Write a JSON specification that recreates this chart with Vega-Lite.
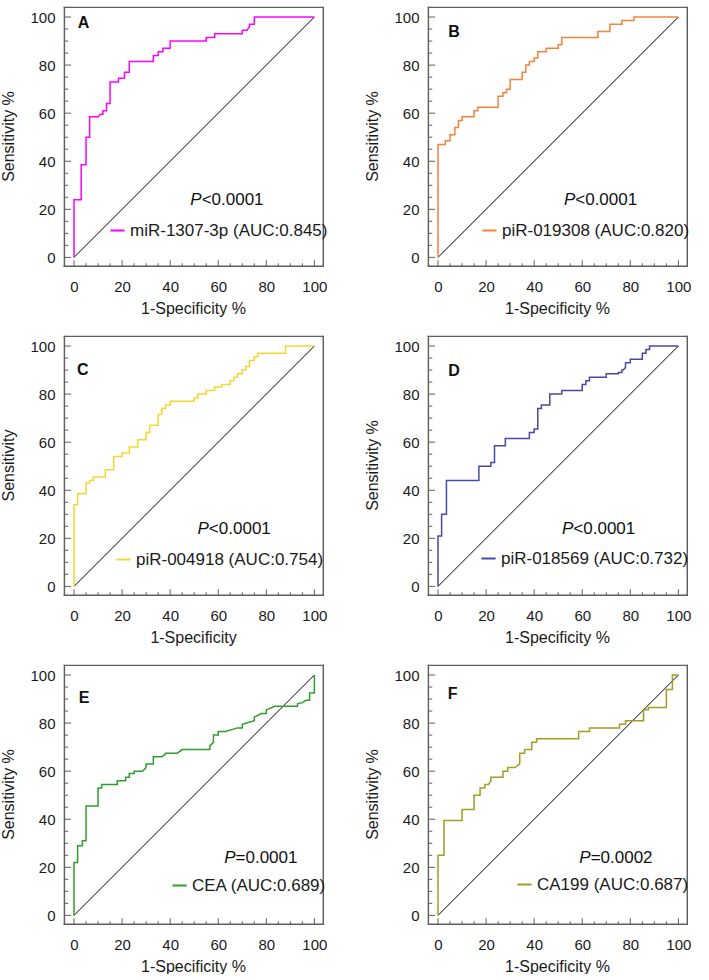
{
  "$schema": "https://vega.github.io/schema/vega-lite/v6.json",
  "padding": {"left": 0, "top": 0, "right": 0, "bottom": 0},
  "background": "white",
  "columns": 2,
  "spacing": {"row": 13, "column": 35},
  "resolve": {"scale": {"x": "independent", "y": "independent", "color": "independent"}, "legend": {"color": "independent"}},
  "datasets": {
    "one": [{"k": 1}],
    "tkMajor": [{"v":0},{"v":20},{"v":40},{"v":60},{"v":80},{"v":100}],
    "tkMinor": [{"v":5},{"v":10},{"v":15},{"v":25},{"v":30},{"v":35},{"v":45},{"v":50},{"v":55},{"v":65},{"v":70},{"v":75},{"v":85},{"v":90},{"v":95}],
    "A": [{"x":0,"y":0},{"x":0,"y":24},{"x":3,"y":24},{"x":3,"y":38.5},{"x":5,"y":38.5},{"x":5,"y":50},{"x":6.5,"y":50},{"x":6.5,"y":58.5},{"x":10,"y":58.5},{"x":11,"y":59.5},{"x":12,"y":59.5},{"x":12,"y":61},{"x":13.5,"y":61},{"x":13.5,"y":64},{"x":15,"y":64},{"x":15,"y":73},{"x":18.5,"y":73},{"x":18.5,"y":74.5},{"x":21,"y":74.5},{"x":21,"y":77},{"x":23,"y":77},{"x":23,"y":81.5},{"x":33,"y":81.5},{"x":33,"y":84},{"x":35,"y":84},{"x":35,"y":85.5},{"x":37,"y":85.5},{"x":37,"y":87},{"x":40,"y":87},{"x":40,"y":90},{"x":55,"y":90},{"x":55,"y":91.5},{"x":58.5,"y":91.5},{"x":58.5,"y":93},{"x":70,"y":93},{"x":70,"y":94.5},{"x":72,"y":94.5},{"x":73,"y":96},{"x":73,"y":97},{"x":75,"y":97},{"x":75,"y":100},{"x":100,"y":100}],
    "B": [{"x":0,"y":0},{"x":0,"y":47},{"x":3,"y":47},{"x":3,"y":48.5},{"x":5,"y":48.5},{"x":5,"y":51},{"x":7,"y":51},{"x":7,"y":54},{"x":8.5,"y":54},{"x":8.5,"y":57},{"x":10,"y":57},{"x":10,"y":58.5},{"x":15,"y":58.5},{"x":15,"y":61},{"x":16.5,"y":61},{"x":16.5,"y":62.5},{"x":25,"y":62.5},{"x":25,"y":67},{"x":27,"y":67},{"x":27,"y":68.5},{"x":28.5,"y":68.5},{"x":28.5,"y":70},{"x":30,"y":70},{"x":30,"y":74},{"x":35,"y":74},{"x":35,"y":77},{"x":36.5,"y":77},{"x":36.5,"y":80},{"x":38,"y":80},{"x":38,"y":81.5},{"x":40,"y":81.5},{"x":40,"y":83},{"x":41.5,"y":83},{"x":41.5,"y":85.5},{"x":45,"y":85.5},{"x":45,"y":87},{"x":50,"y":87},{"x":50,"y":88.5},{"x":51.5,"y":88.5},{"x":51.5,"y":91.5},{"x":66.5,"y":91.5},{"x":66.5,"y":94},{"x":71.5,"y":94},{"x":71.5,"y":97},{"x":76.5,"y":97},{"x":76.5,"y":98.5},{"x":81.5,"y":98.5},{"x":81.5,"y":100},{"x":100,"y":100}],
    "C": [{"x":0,"y":0},{"x":0,"y":34},{"x":1.5,"y":34},{"x":1.5,"y":38.5},{"x":5,"y":38.5},{"x":5,"y":43},{"x":6.5,"y":43},{"x":6.5,"y":44},{"x":8,"y":44},{"x":8,"y":45.5},{"x":13,"y":45.5},{"x":13,"y":48.5},{"x":16.5,"y":48.5},{"x":16.5,"y":54},{"x":20,"y":54},{"x":20,"y":55.5},{"x":23,"y":55.5},{"x":23,"y":58},{"x":26.5,"y":58},{"x":26.5,"y":61},{"x":30,"y":61},{"x":30,"y":64},{"x":31.5,"y":64},{"x":31.5,"y":67},{"x":35,"y":67},{"x":35,"y":71.5},{"x":36.5,"y":71.5},{"x":36.5,"y":74},{"x":38,"y":74},{"x":38,"y":75.5},{"x":40,"y":75.5},{"x":40,"y":77},{"x":50,"y":77},{"x":50,"y":78.5},{"x":51.5,"y":78.5},{"x":51.5,"y":80},{"x":55,"y":80},{"x":55,"y":81.5},{"x":58.5,"y":81.5},{"x":58.5,"y":83},{"x":61.5,"y":83},{"x":61.5,"y":84},{"x":65,"y":84},{"x":65,"y":85.5},{"x":66.5,"y":85.5},{"x":66.5,"y":87},{"x":68,"y":87},{"x":68,"y":88.5},{"x":70,"y":88.5},{"x":70,"y":90},{"x":71.5,"y":90},{"x":71.5,"y":91.5},{"x":73,"y":91.5},{"x":73,"y":94},{"x":75,"y":94},{"x":75,"y":95.5},{"x":76.5,"y":95.5},{"x":76.5,"y":97},{"x":88,"y":97},{"x":88,"y":100},{"x":100,"y":100}],
    "D": [{"x":0,"y":0},{"x":0,"y":21},{"x":1.5,"y":21},{"x":1.5,"y":30},{"x":3.5,"y":30},{"x":3.5,"y":44},{"x":17,"y":44},{"x":17,"y":50},{"x":22,"y":50},{"x":22,"y":51.5},{"x":23.5,"y":51.5},{"x":23.5,"y":58.5},{"x":28,"y":58.5},{"x":28,"y":61.5},{"x":38,"y":61.5},{"x":38,"y":64},{"x":40,"y":64},{"x":40,"y":65.5},{"x":41.5,"y":65.5},{"x":41.5,"y":74},{"x":43,"y":74},{"x":43,"y":75.5},{"x":46.5,"y":75.5},{"x":46.5,"y":80},{"x":51.5,"y":80},{"x":51.5,"y":81.5},{"x":60,"y":81.5},{"x":60,"y":84},{"x":61.5,"y":84},{"x":61.5,"y":85.5},{"x":63,"y":85.5},{"x":63,"y":87},{"x":70,"y":87},{"x":70,"y":88.5},{"x":75,"y":88.5},{"x":75,"y":89},{"x":76.5,"y":89},{"x":76.5,"y":90},{"x":77,"y":90},{"x":78,"y":91},{"x":78,"y":93},{"x":80,"y":93},{"x":80,"y":94.5},{"x":85,"y":94.5},{"x":85,"y":97},{"x":86.5,"y":97},{"x":86.5,"y":98.5},{"x":88,"y":98.5},{"x":88,"y":100},{"x":100,"y":100}],
    "E": [{"x":0,"y":0},{"x":0,"y":22},{"x":1.5,"y":22},{"x":1.5,"y":29},{"x":3.5,"y":29},{"x":3.5,"y":31},{"x":5,"y":31},{"x":5,"y":45.5},{"x":10,"y":45.5},{"x":10,"y":53},{"x":11.5,"y":53},{"x":11.5,"y":54.5},{"x":18,"y":54.5},{"x":18,"y":56},{"x":21.5,"y":56},{"x":21.5,"y":57.5},{"x":23,"y":57.5},{"x":23,"y":59},{"x":25,"y":59},{"x":25,"y":60},{"x":28.5,"y":60},{"x":30,"y":61.5},{"x":30,"y":63},{"x":33,"y":63},{"x":33,"y":66},{"x":36.5,"y":66},{"x":38,"y":67},{"x":38,"y":67.5},{"x":43,"y":67.5},{"x":45,"y":69},{"x":56.5,"y":69},{"x":56.5,"y":70.5},{"x":58,"y":72},{"x":58,"y":75},{"x":60,"y":75},{"x":60,"y":76.5},{"x":63,"y":76.5},{"x":68,"y":78},{"x":70,"y":78},{"x":70,"y":79.5},{"x":75,"y":81},{"x":75,"y":82.5},{"x":78,"y":84},{"x":80,"y":84},{"x":80,"y":85.5},{"x":83.5,"y":87},{"x":93,"y":87},{"x":93,"y":88},{"x":95,"y":88.5},{"x":96.5,"y":89.5},{"x":98,"y":89.5},{"x":98,"y":92.5},{"x":100,"y":92.5},{"x":100,"y":100}],
    "F": [{"x":0,"y":0},{"x":0,"y":25},{"x":2.5,"y":25},{"x":2.5,"y":39.5},{"x":10,"y":39.5},{"x":10,"y":44},{"x":15,"y":44},{"x":15,"y":50},{"x":17.5,"y":50},{"x":17.5,"y":53},{"x":19.5,"y":53},{"x":19.5,"y":54.5},{"x":21,"y":54.5},{"x":22,"y":56},{"x":22,"y":57.5},{"x":27,"y":57.5},{"x":27,"y":60},{"x":29,"y":60},{"x":29,"y":61.5},{"x":32,"y":61.5},{"x":34,"y":63},{"x":34,"y":67.5},{"x":36,"y":67.5},{"x":36,"y":69},{"x":39,"y":69},{"x":39,"y":72},{"x":41,"y":72},{"x":41,"y":73.5},{"x":58.5,"y":73.5},{"x":58.5,"y":76.5},{"x":63,"y":76.5},{"x":63,"y":78},{"x":75.5,"y":78},{"x":75.5,"y":79.5},{"x":78,"y":79.5},{"x":78,"y":81},{"x":85.5,"y":81},{"x":85.5,"y":85.5},{"x":87.5,"y":85.5},{"x":87.5,"y":86.5},{"x":95,"y":86.5},{"x":95,"y":94},{"x":97.5,"y":94},{"x":97.5,"y":100},{"x":100,"y":100}]
  },
  "concat": [
    {
      "width": 272, "height": 272,
      "layer": [
        {"data": {"name": "one"}, "mark": {"type": "rect", "color": "#5f5f5f"}, "encoding": {"x": {"datum": -4.3}, "x2": {"datum": 104}, "y": {"datum": -4}, "y2": {"datum": -3.4}}},
        {"data": {"name": "one"}, "mark": {"type": "rect", "color": "#5f5f5f"}, "encoding": {"x": {"datum": -4.3}, "x2": {"datum": 104}, "y": {"datum": 103.7}, "y2": {"datum": 104.3}}},
        {"data": {"name": "one"}, "mark": {"type": "rect", "color": "#5f5f5f"}, "encoding": {"x": {"datum": -4.3}, "x2": {"datum": -3.7}, "y": {"datum": -4}, "y2": {"datum": 104.3}}},
        {"data": {"name": "one"}, "mark": {"type": "rect", "color": "#5f5f5f"}, "encoding": {"x": {"datum": 103.4}, "x2": {"datum": 104}, "y": {"datum": -4}, "y2": {"datum": 104.3}}},
        {"data": {"name": "tkMajor"}, "mark": {"type": "bar", "color": "#5f5f5f", "size": 1}, "encoding": {"x": {"field": "v", "type": "quantitative"}, "y": {"datum": -4}, "y2": {"datum": -1.2}}},
        {"data": {"name": "tkMinor"}, "mark": {"type": "bar", "color": "#5f5f5f", "size": 1}, "encoding": {"x": {"field": "v", "type": "quantitative"}, "y": {"datum": -4}, "y2": {"datum": -2.4}}},
        {"data": {"name": "tkMajor"}, "mark": {"type": "bar", "color": "#5f5f5f", "size": 1}, "encoding": {"y": {"field": "v", "type": "quantitative"}, "x": {"datum": -4}, "x2": {"datum": -1.2}}},
        {"data": {"name": "tkMinor"}, "mark": {"type": "bar", "color": "#5f5f5f", "size": 1}, "encoding": {"y": {"field": "v", "type": "quantitative"}, "x": {"datum": -4}, "x2": {"datum": -2.4}}},
        {"data": {"name": "one"}, "mark": {"type": "rule", "color": "black", "strokeWidth": 1}, "encoding": {"x": {"datum": 0}, "y": {"datum": 0}, "x2": {"datum": 100}, "y2": {"datum": 100}}},
        {"data": {"name": "A"}, "mark": {"type": "line", "strokeWidth": 1.5},
         "encoding": {
           "x": {"field": "x", "type": "quantitative", "scale": {"domain": [-5, 104], "nice": false, "zero": false}, "axis": {"title": "1-Specificity %", "values": [0,20,40,60,80,100], "ticks": false, "labelPadding": 7}},
           "y": {"field": "y", "type": "quantitative", "scale": {"domain": [-4, 105], "nice": false, "zero": false}, "axis": {"title": "Sensitivity %", "titlePadding": 13.5, "values": [0,20,40,60,80,100], "ticks": false, "labelPadding": 2}},
           "color": {"datum": "miR-1307-3p (AUC:0.845)", "scale": {"range": ["#FF00FF"]}, "legend": {"title": null, "legendX": 52, "legendY": 222}},
           "order": {"value": null}
         }},
        {"data": {"name": "one"}, "mark": {"type": "text", "align": "left", "baseline": "alphabetic", "fontSize": 16, "fontWeight": "bold", "color": "#111"}, "encoding": {"x": {"datum": 1.6}, "y": {"datum": 95.3}, "text": {"value": "A"}}},
        {"data": {"name": "one"}, "mark": {"type": "text", "align": "right", "baseline": "alphabetic", "fontSize": 17, "fontStyle": "italic", "color": "#111"}, "encoding": {"x": {"datum": 53.1}, "y": {"datum": 22}, "text": {"value": "P"}}},
        {"data": {"name": "one"}, "mark": {"type": "text", "align": "left", "baseline": "alphabetic", "fontSize": 17, "color": "#111"}, "encoding": {"x": {"datum": 53.1}, "y": {"datum": 22}, "text": {"value": "<0.0001"}}}
      ]
    },
    {
      "width": 272, "height": 272,
      "layer": [
        {"data": {"name": "one"}, "mark": {"type": "rect", "color": "#5f5f5f"}, "encoding": {"x": {"datum": -4.3}, "x2": {"datum": 104}, "y": {"datum": -4}, "y2": {"datum": -3.4}}},
        {"data": {"name": "one"}, "mark": {"type": "rect", "color": "#5f5f5f"}, "encoding": {"x": {"datum": -4.3}, "x2": {"datum": 104}, "y": {"datum": 103.7}, "y2": {"datum": 104.3}}},
        {"data": {"name": "one"}, "mark": {"type": "rect", "color": "#5f5f5f"}, "encoding": {"x": {"datum": -4.3}, "x2": {"datum": -3.7}, "y": {"datum": -4}, "y2": {"datum": 104.3}}},
        {"data": {"name": "one"}, "mark": {"type": "rect", "color": "#5f5f5f"}, "encoding": {"x": {"datum": 103.4}, "x2": {"datum": 104}, "y": {"datum": -4}, "y2": {"datum": 104.3}}},
        {"data": {"name": "tkMajor"}, "mark": {"type": "bar", "color": "#5f5f5f", "size": 1}, "encoding": {"x": {"field": "v", "type": "quantitative"}, "y": {"datum": -4}, "y2": {"datum": -1.2}}},
        {"data": {"name": "tkMinor"}, "mark": {"type": "bar", "color": "#5f5f5f", "size": 1}, "encoding": {"x": {"field": "v", "type": "quantitative"}, "y": {"datum": -4}, "y2": {"datum": -2.4}}},
        {"data": {"name": "tkMajor"}, "mark": {"type": "bar", "color": "#5f5f5f", "size": 1}, "encoding": {"y": {"field": "v", "type": "quantitative"}, "x": {"datum": -4}, "x2": {"datum": -1.2}}},
        {"data": {"name": "tkMinor"}, "mark": {"type": "bar", "color": "#5f5f5f", "size": 1}, "encoding": {"y": {"field": "v", "type": "quantitative"}, "x": {"datum": -4}, "x2": {"datum": -2.4}}},
        {"data": {"name": "one"}, "mark": {"type": "rule", "color": "black", "strokeWidth": 1}, "encoding": {"x": {"datum": 0}, "y": {"datum": 0}, "x2": {"datum": 100}, "y2": {"datum": 100}}},
        {"data": {"name": "B"}, "mark": {"type": "line", "strokeWidth": 1.5},
         "encoding": {
           "x": {"field": "x", "type": "quantitative", "scale": {"domain": [-5, 104], "nice": false, "zero": false}, "axis": {"title": "1-Specificity %", "values": [0,20,40,60,80,100], "ticks": false, "labelPadding": 7}},
           "y": {"field": "y", "type": "quantitative", "scale": {"domain": [-4, 105], "nice": false, "zero": false}, "axis": {"title": "Sensitivity %", "titlePadding": 13.5, "values": [0,20,40,60,80,100], "ticks": false, "labelPadding": 2}},
           "color": {"datum": "piR-019308 (AUC:0.820)", "scale": {"range": ["#F5823A"]}, "legend": {"title": null, "legendX": 60, "legendY": 222}},
           "order": {"value": null}
         }},
        {"data": {"name": "one"}, "mark": {"type": "text", "align": "left", "baseline": "alphabetic", "fontSize": 16, "fontWeight": "bold", "color": "#111"}, "encoding": {"x": {"datum": 4.3}, "y": {"datum": 91.7}, "text": {"value": "B"}}},
        {"data": {"name": "one"}, "mark": {"type": "text", "align": "right", "baseline": "alphabetic", "fontSize": 17, "fontStyle": "italic", "color": "#111"}, "encoding": {"x": {"datum": 57.1}, "y": {"datum": 22}, "text": {"value": "P"}}},
        {"data": {"name": "one"}, "mark": {"type": "text", "align": "left", "baseline": "alphabetic", "fontSize": 17, "color": "#111"}, "encoding": {"x": {"datum": 57.1}, "y": {"datum": 22}, "text": {"value": "<0.0001"}}}
      ]
    },
    {
      "width": 272, "height": 272,
      "layer": [
        {"data": {"name": "one"}, "mark": {"type": "rect", "color": "#5f5f5f"}, "encoding": {"x": {"datum": -4.3}, "x2": {"datum": 104}, "y": {"datum": -4}, "y2": {"datum": -3.4}}},
        {"data": {"name": "one"}, "mark": {"type": "rect", "color": "#5f5f5f"}, "encoding": {"x": {"datum": -4.3}, "x2": {"datum": 104}, "y": {"datum": 103.7}, "y2": {"datum": 104.3}}},
        {"data": {"name": "one"}, "mark": {"type": "rect", "color": "#5f5f5f"}, "encoding": {"x": {"datum": -4.3}, "x2": {"datum": -3.7}, "y": {"datum": -4}, "y2": {"datum": 104.3}}},
        {"data": {"name": "one"}, "mark": {"type": "rect", "color": "#5f5f5f"}, "encoding": {"x": {"datum": 103.4}, "x2": {"datum": 104}, "y": {"datum": -4}, "y2": {"datum": 104.3}}},
        {"data": {"name": "tkMajor"}, "mark": {"type": "bar", "color": "#5f5f5f", "size": 1}, "encoding": {"x": {"field": "v", "type": "quantitative"}, "y": {"datum": -4}, "y2": {"datum": -1.2}}},
        {"data": {"name": "tkMinor"}, "mark": {"type": "bar", "color": "#5f5f5f", "size": 1}, "encoding": {"x": {"field": "v", "type": "quantitative"}, "y": {"datum": -4}, "y2": {"datum": -2.4}}},
        {"data": {"name": "tkMajor"}, "mark": {"type": "bar", "color": "#5f5f5f", "size": 1}, "encoding": {"y": {"field": "v", "type": "quantitative"}, "x": {"datum": -4}, "x2": {"datum": -1.2}}},
        {"data": {"name": "tkMinor"}, "mark": {"type": "bar", "color": "#5f5f5f", "size": 1}, "encoding": {"y": {"field": "v", "type": "quantitative"}, "x": {"datum": -4}, "x2": {"datum": -2.4}}},
        {"data": {"name": "one"}, "mark": {"type": "rule", "color": "black", "strokeWidth": 1}, "encoding": {"x": {"datum": 0}, "y": {"datum": 0}, "x2": {"datum": 100}, "y2": {"datum": 100}}},
        {"data": {"name": "C"}, "mark": {"type": "line", "strokeWidth": 1.5},
         "encoding": {
           "x": {"field": "x", "type": "quantitative", "scale": {"domain": [-5, 104], "nice": false, "zero": false}, "axis": {"title": "1-Specificity", "values": [0,20,40,60,80,100], "ticks": false, "labelPadding": 7}},
           "y": {"field": "y", "type": "quantitative", "scale": {"domain": [-4, 105], "nice": false, "zero": false}, "axis": {"title": "Sensitivity", "titlePadding": 13.5, "values": [0,20,40,60,80,100], "ticks": false, "labelPadding": 2}},
           "color": {"datum": "piR-004918 (AUC:0.754)", "scale": {"range": ["#F7D531"]}, "legend": {"title": null, "legendX": 58, "legendY": 222}},
           "order": {"value": null}
         }},
        {"data": {"name": "one"}, "mark": {"type": "text", "align": "left", "baseline": "alphabetic", "fontSize": 16, "fontWeight": "bold", "color": "#111"}, "encoding": {"x": {"datum": 1.2}, "y": {"datum": 88}, "text": {"value": "C"}}},
        {"data": {"name": "one"}, "mark": {"type": "text", "align": "right", "baseline": "alphabetic", "fontSize": 17, "fontStyle": "italic", "color": "#111"}, "encoding": {"x": {"datum": 56.1}, "y": {"datum": 22}, "text": {"value": "P"}}},
        {"data": {"name": "one"}, "mark": {"type": "text", "align": "left", "baseline": "alphabetic", "fontSize": 17, "color": "#111"}, "encoding": {"x": {"datum": 56.1}, "y": {"datum": 22}, "text": {"value": "<0.0001"}}}
      ]
    },
    {
      "width": 272, "height": 272,
      "layer": [
        {"data": {"name": "one"}, "mark": {"type": "rect", "color": "#5f5f5f"}, "encoding": {"x": {"datum": -4.3}, "x2": {"datum": 104}, "y": {"datum": -4}, "y2": {"datum": -3.4}}},
        {"data": {"name": "one"}, "mark": {"type": "rect", "color": "#5f5f5f"}, "encoding": {"x": {"datum": -4.3}, "x2": {"datum": 104}, "y": {"datum": 103.7}, "y2": {"datum": 104.3}}},
        {"data": {"name": "one"}, "mark": {"type": "rect", "color": "#5f5f5f"}, "encoding": {"x": {"datum": -4.3}, "x2": {"datum": -3.7}, "y": {"datum": -4}, "y2": {"datum": 104.3}}},
        {"data": {"name": "one"}, "mark": {"type": "rect", "color": "#5f5f5f"}, "encoding": {"x": {"datum": 103.4}, "x2": {"datum": 104}, "y": {"datum": -4}, "y2": {"datum": 104.3}}},
        {"data": {"name": "tkMajor"}, "mark": {"type": "bar", "color": "#5f5f5f", "size": 1}, "encoding": {"x": {"field": "v", "type": "quantitative"}, "y": {"datum": -4}, "y2": {"datum": -1.2}}},
        {"data": {"name": "tkMinor"}, "mark": {"type": "bar", "color": "#5f5f5f", "size": 1}, "encoding": {"x": {"field": "v", "type": "quantitative"}, "y": {"datum": -4}, "y2": {"datum": -2.4}}},
        {"data": {"name": "tkMajor"}, "mark": {"type": "bar", "color": "#5f5f5f", "size": 1}, "encoding": {"y": {"field": "v", "type": "quantitative"}, "x": {"datum": -4}, "x2": {"datum": -1.2}}},
        {"data": {"name": "tkMinor"}, "mark": {"type": "bar", "color": "#5f5f5f", "size": 1}, "encoding": {"y": {"field": "v", "type": "quantitative"}, "x": {"datum": -4}, "x2": {"datum": -2.4}}},
        {"data": {"name": "one"}, "mark": {"type": "rule", "color": "black", "strokeWidth": 1}, "encoding": {"x": {"datum": 0}, "y": {"datum": 0}, "x2": {"datum": 100}, "y2": {"datum": 100}}},
        {"data": {"name": "D"}, "mark": {"type": "line", "strokeWidth": 1.5},
         "encoding": {
           "x": {"field": "x", "type": "quantitative", "scale": {"domain": [-5, 104], "nice": false, "zero": false}, "axis": {"title": "1-Specificity %", "values": [0,20,40,60,80,100], "ticks": false, "labelPadding": 7}},
           "y": {"field": "y", "type": "quantitative", "scale": {"domain": [-4, 105], "nice": false, "zero": false}, "axis": {"title": "Sensitivity %", "titlePadding": 13.5, "values": [0,20,40,60,80,100], "ticks": false, "labelPadding": 2}},
           "color": {"datum": "piR-018569 (AUC:0.732)", "scale": {"range": ["#4848A8"]}, "legend": {"title": null, "legendX": 59, "legendY": 221}},
           "order": {"value": null}
         }},
        {"data": {"name": "one"}, "mark": {"type": "text", "align": "left", "baseline": "alphabetic", "fontSize": 16, "fontWeight": "bold", "color": "#111"}, "encoding": {"x": {"datum": 4.3}, "y": {"datum": 87.5}, "text": {"value": "D"}}},
        {"data": {"name": "one"}, "mark": {"type": "text", "align": "right", "baseline": "alphabetic", "fontSize": 17, "fontStyle": "italic", "color": "#111"}, "encoding": {"x": {"datum": 56.3}, "y": {"datum": 22}, "text": {"value": "P"}}},
        {"data": {"name": "one"}, "mark": {"type": "text", "align": "left", "baseline": "alphabetic", "fontSize": 17, "color": "#111"}, "encoding": {"x": {"datum": 56.3}, "y": {"datum": 22}, "text": {"value": "<0.0001"}}}
      ]
    },
    {
      "width": 272, "height": 272,
      "layer": [
        {"data": {"name": "one"}, "mark": {"type": "rect", "color": "#5f5f5f"}, "encoding": {"x": {"datum": -4.3}, "x2": {"datum": 104}, "y": {"datum": -4}, "y2": {"datum": -3.4}}},
        {"data": {"name": "one"}, "mark": {"type": "rect", "color": "#5f5f5f"}, "encoding": {"x": {"datum": -4.3}, "x2": {"datum": 104}, "y": {"datum": 103.7}, "y2": {"datum": 104.3}}},
        {"data": {"name": "one"}, "mark": {"type": "rect", "color": "#5f5f5f"}, "encoding": {"x": {"datum": -4.3}, "x2": {"datum": -3.7}, "y": {"datum": -4}, "y2": {"datum": 104.3}}},
        {"data": {"name": "one"}, "mark": {"type": "rect", "color": "#5f5f5f"}, "encoding": {"x": {"datum": 103.4}, "x2": {"datum": 104}, "y": {"datum": -4}, "y2": {"datum": 104.3}}},
        {"data": {"name": "tkMajor"}, "mark": {"type": "bar", "color": "#5f5f5f", "size": 1}, "encoding": {"x": {"field": "v", "type": "quantitative"}, "y": {"datum": -4}, "y2": {"datum": -1.2}}},
        {"data": {"name": "tkMinor"}, "mark": {"type": "bar", "color": "#5f5f5f", "size": 1}, "encoding": {"x": {"field": "v", "type": "quantitative"}, "y": {"datum": -4}, "y2": {"datum": -2.4}}},
        {"data": {"name": "tkMajor"}, "mark": {"type": "bar", "color": "#5f5f5f", "size": 1}, "encoding": {"y": {"field": "v", "type": "quantitative"}, "x": {"datum": -4}, "x2": {"datum": -1.2}}},
        {"data": {"name": "tkMinor"}, "mark": {"type": "bar", "color": "#5f5f5f", "size": 1}, "encoding": {"y": {"field": "v", "type": "quantitative"}, "x": {"datum": -4}, "x2": {"datum": -2.4}}},
        {"data": {"name": "one"}, "mark": {"type": "rule", "color": "black", "strokeWidth": 1}, "encoding": {"x": {"datum": 0}, "y": {"datum": 0}, "x2": {"datum": 100}, "y2": {"datum": 100}}},
        {"data": {"name": "E"}, "mark": {"type": "line", "strokeWidth": 1.5},
         "encoding": {
           "x": {"field": "x", "type": "quantitative", "scale": {"domain": [-5, 104], "nice": false, "zero": false}, "axis": {"title": "1-Specificity %", "values": [0,20,40,60,80,100], "ticks": false, "labelPadding": 7}},
           "y": {"field": "y", "type": "quantitative", "scale": {"domain": [-4, 105], "nice": false, "zero": false}, "axis": {"title": "Sensitivity %", "titlePadding": 13.5, "values": [0,20,40,60,80,100], "ticks": false, "labelPadding": 2}},
           "color": {"datum": "CEA (AUC:0.689)", "scale": {"range": ["#2E9E2E"]}, "legend": {"title": null, "legendX": 114, "legendY": 219}},
           "order": {"value": null}
         }},
        {"data": {"name": "one"}, "mark": {"type": "text", "align": "left", "baseline": "alphabetic", "fontSize": 16, "fontWeight": "bold", "color": "#111"}, "encoding": {"x": {"datum": 2}, "y": {"datum": 88.4}, "text": {"value": "E"}}},
        {"data": {"name": "one"}, "mark": {"type": "text", "align": "right", "baseline": "alphabetic", "fontSize": 17, "fontStyle": "italic", "color": "#111"}, "encoding": {"x": {"datum": 67.2}, "y": {"datum": 22}, "text": {"value": "P"}}},
        {"data": {"name": "one"}, "mark": {"type": "text", "align": "left", "baseline": "alphabetic", "fontSize": 17, "color": "#111"}, "encoding": {"x": {"datum": 67.2}, "y": {"datum": 22}, "text": {"value": "=0.0001"}}}
      ]
    },
    {
      "width": 272, "height": 272,
      "layer": [
        {"data": {"name": "one"}, "mark": {"type": "rect", "color": "#5f5f5f"}, "encoding": {"x": {"datum": -4.3}, "x2": {"datum": 104}, "y": {"datum": -4}, "y2": {"datum": -3.4}}},
        {"data": {"name": "one"}, "mark": {"type": "rect", "color": "#5f5f5f"}, "encoding": {"x": {"datum": -4.3}, "x2": {"datum": 104}, "y": {"datum": 103.7}, "y2": {"datum": 104.3}}},
        {"data": {"name": "one"}, "mark": {"type": "rect", "color": "#5f5f5f"}, "encoding": {"x": {"datum": -4.3}, "x2": {"datum": -3.7}, "y": {"datum": -4}, "y2": {"datum": 104.3}}},
        {"data": {"name": "one"}, "mark": {"type": "rect", "color": "#5f5f5f"}, "encoding": {"x": {"datum": 103.4}, "x2": {"datum": 104}, "y": {"datum": -4}, "y2": {"datum": 104.3}}},
        {"data": {"name": "tkMajor"}, "mark": {"type": "bar", "color": "#5f5f5f", "size": 1}, "encoding": {"x": {"field": "v", "type": "quantitative"}, "y": {"datum": -4}, "y2": {"datum": -1.2}}},
        {"data": {"name": "tkMinor"}, "mark": {"type": "bar", "color": "#5f5f5f", "size": 1}, "encoding": {"x": {"field": "v", "type": "quantitative"}, "y": {"datum": -4}, "y2": {"datum": -2.4}}},
        {"data": {"name": "tkMajor"}, "mark": {"type": "bar", "color": "#5f5f5f", "size": 1}, "encoding": {"y": {"field": "v", "type": "quantitative"}, "x": {"datum": -4}, "x2": {"datum": -1.2}}},
        {"data": {"name": "tkMinor"}, "mark": {"type": "bar", "color": "#5f5f5f", "size": 1}, "encoding": {"y": {"field": "v", "type": "quantitative"}, "x": {"datum": -4}, "x2": {"datum": -2.4}}},
        {"data": {"name": "one"}, "mark": {"type": "rule", "color": "black", "strokeWidth": 1}, "encoding": {"x": {"datum": 0}, "y": {"datum": 0}, "x2": {"datum": 100}, "y2": {"datum": 100}}},
        {"data": {"name": "F"}, "mark": {"type": "line", "strokeWidth": 1.5},
         "encoding": {
           "x": {"field": "x", "type": "quantitative", "scale": {"domain": [-5, 104], "nice": false, "zero": false}, "axis": {"title": "1-Specificity %", "values": [0,20,40,60,80,100], "ticks": false, "labelPadding": 7}},
           "y": {"field": "y", "type": "quantitative", "scale": {"domain": [-4, 105], "nice": false, "zero": false}, "axis": {"title": "Sensitivity %", "titlePadding": 13.5, "values": [0,20,40,60,80,100], "ticks": false, "labelPadding": 2}},
           "color": {"datum": "CA199 (AUC:0.687)", "scale": {"range": ["#A69B21"]}, "legend": {"title": null, "legendX": 95, "legendY": 218}},
           "order": {"value": null}
         }},
        {"data": {"name": "one"}, "mark": {"type": "text", "align": "left", "baseline": "alphabetic", "fontSize": 16, "fontWeight": "bold", "color": "#111"}, "encoding": {"x": {"datum": 4}, "y": {"datum": 90}, "text": {"value": "F"}}},
        {"data": {"name": "one"}, "mark": {"type": "text", "align": "right", "baseline": "alphabetic", "fontSize": 17, "fontStyle": "italic", "color": "#111"}, "encoding": {"x": {"datum": 63.5}, "y": {"datum": 22}, "text": {"value": "P"}}},
        {"data": {"name": "one"}, "mark": {"type": "text", "align": "left", "baseline": "alphabetic", "fontSize": 17, "color": "#111"}, "encoding": {"x": {"datum": 63.5}, "y": {"datum": 22}, "text": {"value": "=0.0002"}}}
      ]
    }
  ],
  "config": {
    "font": "Liberation Sans",
    "view": {"stroke": null},
    "axis": {"domain": false, "grid": false, "labelFontSize": 15, "labelColor": "#1a1a1a", "titleFontSize": 16, "titleFontWeight": "normal", "titleColor": "#1a1a1a", "labelFlush": false, "labelOverlap": false, "labelBound": false, "titlePadding": 6},
    "legend": {"orient": "none", "symbolType": "stroke", "symbolSize": 200, "symbolStrokeWidth": 2, "labelFontSize": 17, "labelColor": "#1a1a1a", "labelLimit": 0, "padding": 0}
  }
}
